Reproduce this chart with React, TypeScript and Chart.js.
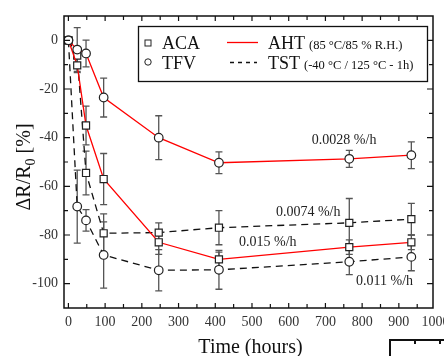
import React, { useEffect, useRef } from 'react';
import { Chart, registerables } from 'chart.js';

Chart.register(...registerables);

// ---- data ----
const hours = [0, 24, 48, 96, 246, 410, 765, 934];

const ahtTfv = [0, -3.8, -5.4, -23.5, -40, -50.3, -48.7, -47.2];
const ahtTfvErr = [0, 9, 5.5, 8, 9, 4.5, 3.5, 5.5];

const ahtAca = [0, -10.3, -35, -57, -83, -90, -85, -83];
const ahtAcaErr = [0, 3, 8, 10.5, 5, 3, 3, 3];

const tstAca = [0, -6.3, -54.5, -79.3, -79, -77, -75, -73.5];
const tstAcaErr = [0, 3, 9, 8, 4, 7, 10, 6.5];

const tstTfv = [0, -68.3, -74, -88.2, -94.5, -94.3, -91, -89];
const tstTfvErr = [0, 15, 4.4, 13.6, 8.5, 8, 5.3, 5.7];

const xTickLabels = [0, 100, 200, 300, 400, 500, 600, 700, 800, 900, 1000];
const yTickLabels = [-100, -80, -60, -40, -20, 0];

const rateLabels = ['0.0028 %/h', '0.0074 %/h', '0.015 %/h', '0.011 %/h'];
const rateHours = [751, 653, 543, 861];
const rateValues = [-41, -70.8, -83, -99];

const X_MIN = -12;
const X_MAX = 993;
const Y_MIN = -110;
const Y_MAX = 10;

const SERIF = '"Liberation Serif", "Times New Roman", serif';

const errorSets = [
  { v: ahtTfv, e: ahtTfvErr },
  { v: ahtAca, e: ahtAcaErr },
  { v: tstAca, e: tstAcaErr },
  { v: tstTfv, e: tstTfvErr },
];

const decorPlugin = {
  id: 'decor',
  beforeDatasetsDraw(chart: any) {
    const { ctx } = chart;
    const xs = chart.scales.x;
    const ys = chart.scales.y;
    ctx.save();
    ctx.strokeStyle = '#555';
    ctx.lineWidth = 1.3;
    errorSets.forEach((s) => {
      s.v.forEach((val, i) => {
        const e = s.e[i];
        if (!e) return;
        const x = xs.getPixelForValue(hours[i]);
        const yt = ys.getPixelForValue(val + e);
        const yb = ys.getPixelForValue(val - e);
        ctx.beginPath();
        ctx.moveTo(x, yt);
        ctx.lineTo(x, yb);
        ctx.moveTo(x - 3.5, yt);
        ctx.lineTo(x + 3.5, yt);
        ctx.moveTo(x - 3.5, yb);
        ctx.lineTo(x + 3.5, yb);
        ctx.stroke();
      });
    });
    ctx.restore();
  },
  afterDraw(chart: any) {
    const { ctx, chartArea: ca } = chart;
    const xs = chart.scales.x;
    const ys = chart.scales.y;
    ctx.save();

    // frame
    ctx.strokeStyle = '#111';
    ctx.lineWidth = 1.5;
    ctx.strokeRect(ca.left, ca.top, ca.right - ca.left, ca.bottom - ca.top);

    // inward ticks
    ctx.lineWidth = 1.2;
    ctx.beginPath();
    for (let v = 0; v <= 1000; v += 50) {
      const x = xs.getPixelForValue(v);
      if (x < ca.left || x > ca.right - 1) continue;
      const len = v % 100 === 0 ? 5 : 4;
      ctx.moveTo(x, ca.bottom);
      ctx.lineTo(x, ca.bottom - len);
      ctx.moveTo(x, ca.top);
      ctx.lineTo(x, ca.top + len);
    }
    for (let v = -100; v <= 0; v += 10) {
      const y = ys.getPixelForValue(v);
      const len = v % 20 === 0 ? 6 : 4;
      ctx.moveTo(ca.left, y);
      ctx.lineTo(ca.left + len, y);
      ctx.moveTo(ca.right, y);
      ctx.lineTo(ca.right - len, y);
    }
    ctx.stroke();

    // x tick labels
    ctx.fillStyle = '#333';
    ctx.font = `14px ${SERIF}`;
    ctx.textAlign = 'center';
    ctx.textBaseline = 'middle';
    xTickLabels.forEach((v) => {
      ctx.fillText(String(v), xs.getPixelForValue(v), ca.bottom + 14);
    });

    // x title
    ctx.fillStyle = '#111';
    ctx.font = `20px ${SERIF}`;
    ctx.textBaseline = 'alphabetic';
    ctx.fillText('Time (hours)', (ca.left + ca.right) / 2 + 2, 353);

    // y title (rotated, with subscript)
    ctx.save();
    ctx.translate(29.5, (ca.top + ca.bottom) / 2 + 5);
    ctx.rotate(-Math.PI / 2);
    ctx.textAlign = 'left';
    ctx.font = `20px ${SERIF}`;
    const p1 = '\u0394R/R';
    const p3 = ' [%]';
    const w1 = ctx.measureText(p1).width;
    const w3 = ctx.measureText(p3).width;
    ctx.font = `14px ${SERIF}`;
    const w2 = ctx.measureText('0').width;
    let u = -(w1 + w2 + w3) / 2;
    ctx.font = `20px ${SERIF}`;
    ctx.fillText(p1, u, 0);
    u += w1;
    ctx.font = `14px ${SERIF}`;
    ctx.fillText('0', u, 5);
    u += w2;
    ctx.font = `20px ${SERIF}`;
    ctx.fillText(p3, u, 0);
    ctx.restore();

    // rate annotations
    ctx.fillStyle = '#222';
    ctx.font = `14px ${SERIF}`;
    ctx.textAlign = 'center';
    ctx.textBaseline = 'middle';
    rateLabels.forEach((t, i) => {
      ctx.fillText(t, xs.getPixelForValue(rateHours[i]), ys.getPixelForValue(rateValues[i]));
    });

    // legend
    const lx = 138.5, ly = 26.5, lw = 289, lh = 55;
    ctx.fillStyle = '#fff';
    ctx.fillRect(lx, ly, lw, lh);
    ctx.strokeStyle = '#111';
    ctx.lineWidth = 1.3;
    ctx.strokeRect(lx, ly, lw, lh);

    ctx.lineWidth = 1;
    ctx.strokeStyle = '#222';
    ctx.strokeRect(145, 40, 6, 6);
    ctx.beginPath();
    ctx.arc(148, 62, 3.2, 0, Math.PI * 2);
    ctx.stroke();

    ctx.fillStyle = '#111';
    ctx.textAlign = 'left';
    ctx.textBaseline = 'alphabetic';
    ctx.font = `18px ${SERIF}`;
    ctx.fillText('ACA', 162, 49);
    ctx.fillText('TFV', 162, 68.5);

    ctx.strokeStyle = '#ff0000';
    ctx.lineWidth = 1.3;
    ctx.beginPath();
    ctx.moveTo(227, 42.5);
    ctx.lineTo(258, 42.5);
    ctx.stroke();
    ctx.strokeStyle = '#111';
    ctx.setLineDash([4, 4]);
    ctx.beginPath();
    ctx.moveTo(230, 62.5);
    ctx.lineTo(257, 62.5);
    ctx.stroke();
    ctx.setLineDash([]);

    ctx.font = `18px ${SERIF}`;
    ctx.fillText('AHT', 268, 49);
    let wa = ctx.measureText('AHT').width;
    ctx.fillText('TST', 268, 68.5);
    let wt = ctx.measureText('TST').width;
    ctx.font = `12.5px ${SERIF}`;
    ctx.fillText('(85 \u00B0C/85 % R.H.)', 268 + wa + 4, 49);
    ctx.fillText('(-40 \u00B0C / 125 \u00B0C - 1h)', 268 + wt + 4, 68.5);

    // neighbouring panel corner (cropped)
    ctx.strokeStyle = '#111';
    ctx.lineWidth = 2;
    ctx.beginPath();
    ctx.moveTo(390, 360);
    ctx.lineTo(390, 340);
    ctx.lineTo(450, 340);
    ctx.moveTo(415, 340);
    ctx.lineTo(415, 344);
    ctx.moveTo(440, 340);
    ctx.lineTo(440, 344);
    ctx.stroke();

    ctx.restore();
  },
};

export default function App() {
  const ref = useRef<HTMLCanvasElement | null>(null);

  useEffect(() => {
    if (!ref.current) return;
    const mk = (xs: number[], ys: number[]) => xs.map((x, i) => ({ x, y: ys[i] }));
    const common = {
      pointBackgroundColor: '#fff',
      pointBorderColor: '#222',
      pointBorderWidth: 1.2,
      borderWidth: 1.3,
      tension: 0,
      fill: false,
    };
    const chart = new Chart(ref.current, {
      type: 'line',
      data: {
        datasets: [
          { ...common, label: 'AHT TFV', data: mk(hours, ahtTfv), borderColor: '#ff0000', pointStyle: 'circle', pointRadius: 4.3 },
          { ...common, label: 'AHT ACA', data: mk(hours, ahtAca), borderColor: '#ff0000', pointStyle: 'rect', pointRadius: 5 },
          { ...common, label: 'TST ACA', data: mk(hours, tstAca), borderColor: '#111', borderDash: [7, 5], pointStyle: 'rect', pointRadius: 5 },
          { ...common, label: 'TST TFV', data: mk(hours, tstTfv), borderColor: '#111', borderDash: [7, 5], pointStyle: 'circle', pointRadius: 4.3 },
        ],
      },
      options: {
        animation: false,
        responsive: false,
        devicePixelRatio: 1,
        layout: { padding: { top: 16, right: 11, left: 0, bottom: 0 } },
        plugins: { legend: { display: false }, tooltip: { enabled: false } },
        scales: {
          x: {
            type: 'linear',
            min: X_MIN,
            max: X_MAX,
            grid: { display: false, drawTicks: false },
            border: { display: false },
            ticks: { display: false },
            afterFit: (s: any) => { s.height = 48; },
          },
          y: {
            type: 'linear',
            min: Y_MIN,
            max: Y_MAX,
            grid: { display: false, drawTicks: false },
            border: { display: false },
            afterBuildTicks: (s: any) => { s.ticks = yTickLabels.map((value) => ({ value })); },
            ticks: { color: '#333', font: { family: SERIF, size: 14 }, padding: 6 },
            afterFit: (s: any) => { s.width = 64; },
          },
        },
      },
      plugins: [decorPlugin],
    });
    return () => chart.destroy();
  }, []);

  return (
    <div style={{ position: 'absolute', left: 0, top: 0, width: 444, height: 356, background: '#fff' }}>
      <canvas ref={ref} width={444} height={356} style={{ display: 'block' }} />
    </div>
  );
}
